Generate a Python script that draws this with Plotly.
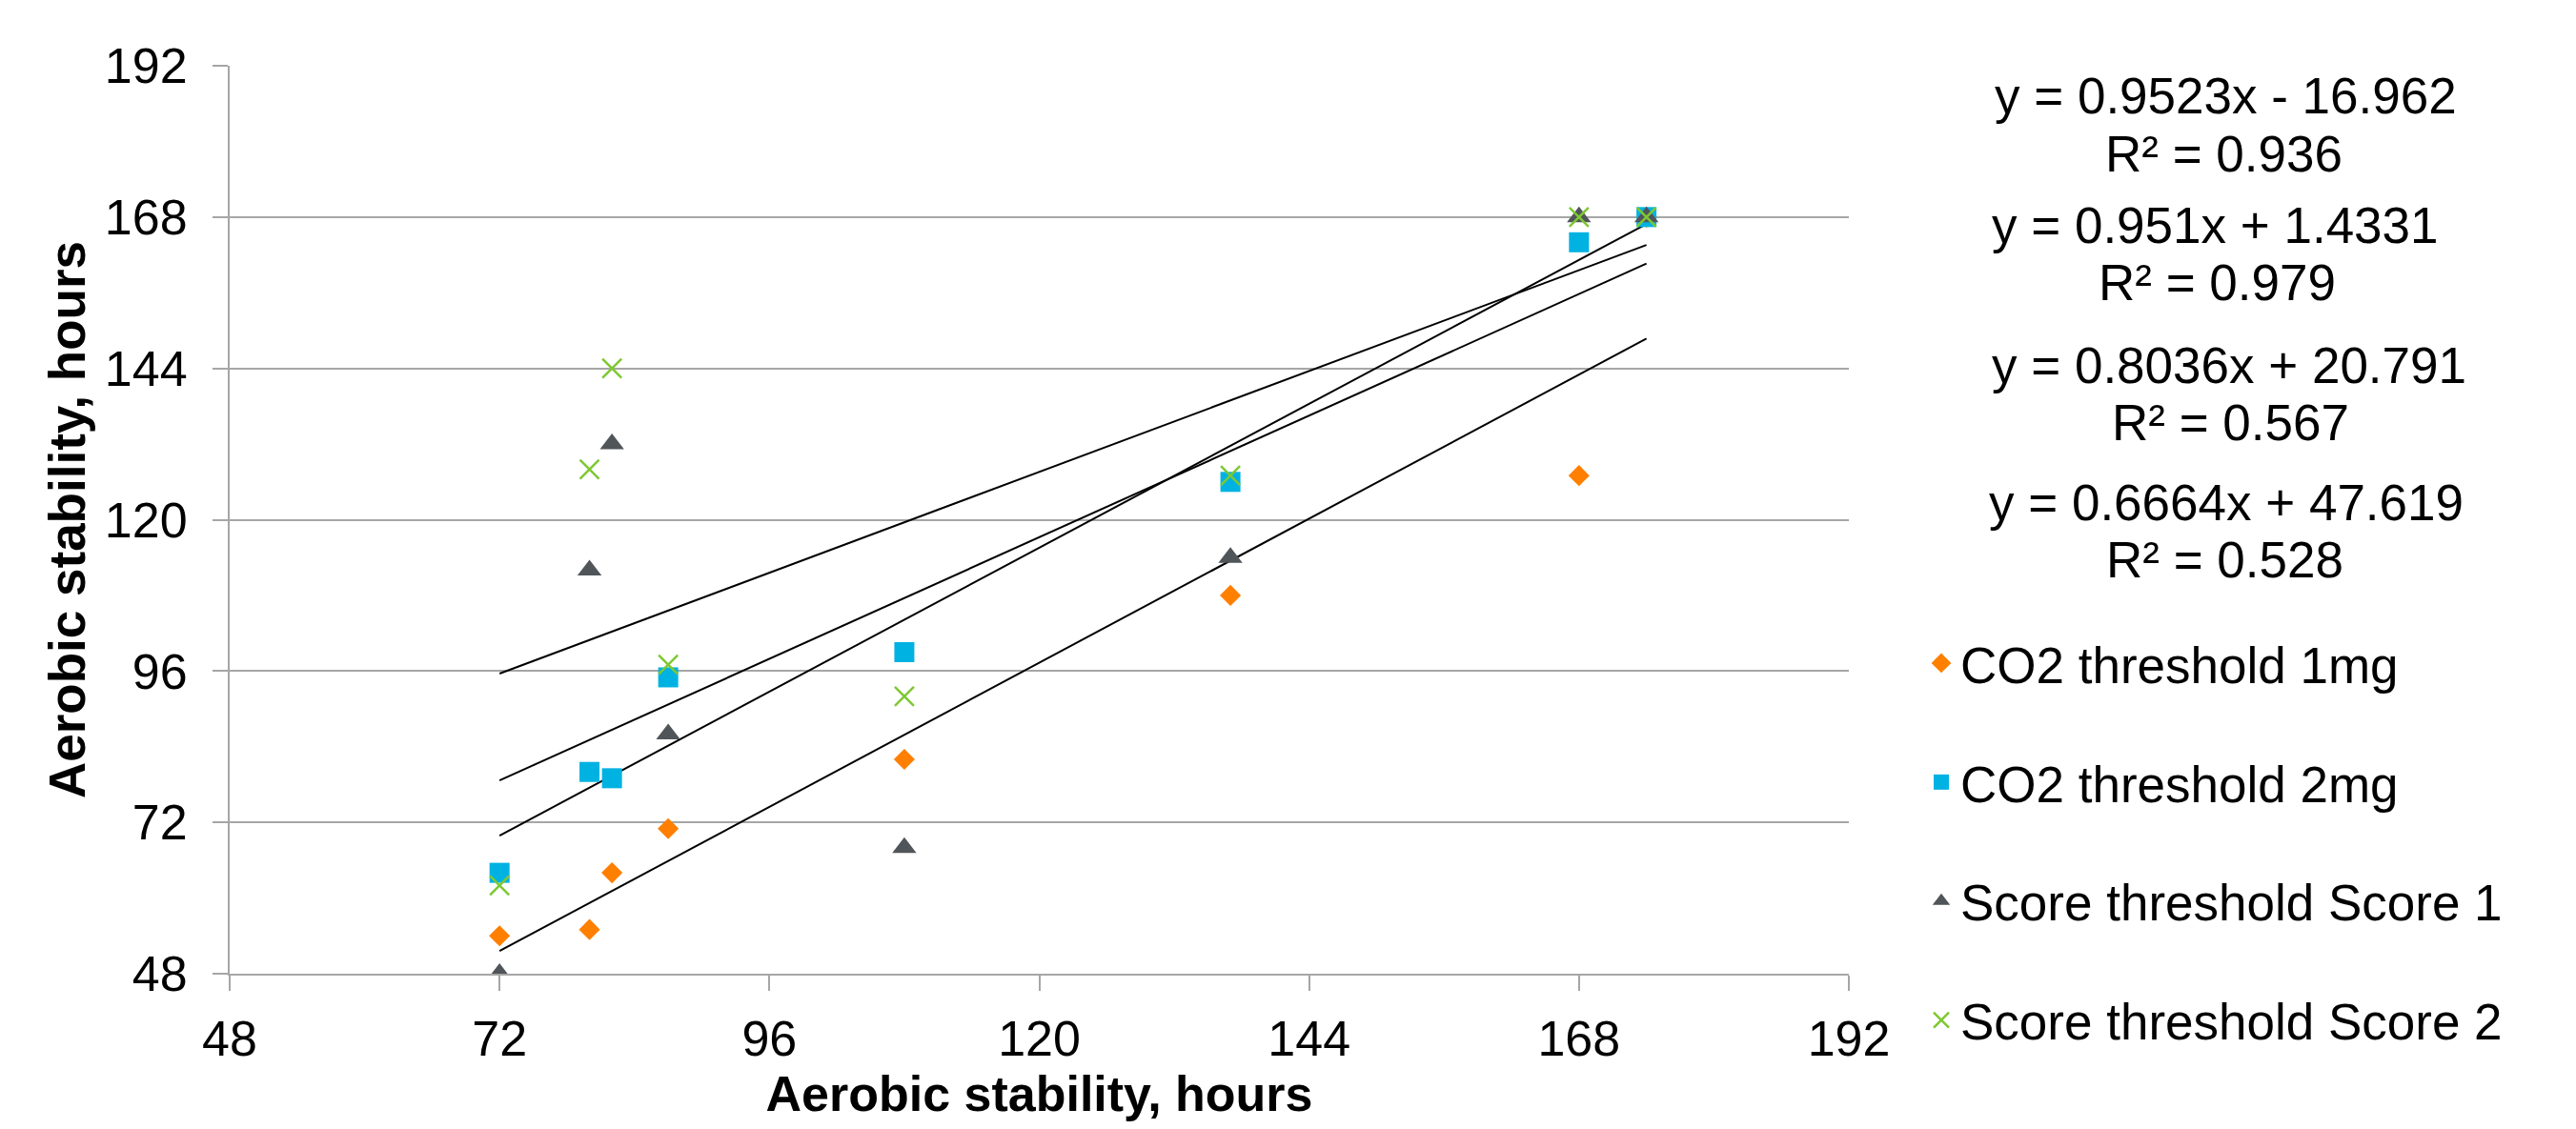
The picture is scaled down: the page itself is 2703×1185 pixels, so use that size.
import plotly.graph_objects as go

# ---- data ----
x_hours = [72, 80, 82, 87, 108, 137, 168, 174]
co2_1mg = [54, 55, 64, 71, 82, 108, 127, 168]
co2_2mg = [64, 80, 79, 95, 99, 126, 164, 168]
score_1 = [48, 112, 132, 86, 68, 114, 168, 168]
score_2 = [62, 128, 144, 97, 92, 127, 168, 168]

series_names = ["CO2 threshold 1mg", "CO2 threshold 2mg",
                "Score threshold Score 1", "Score threshold Score 2"]
trend_slopes = [0.9523, 0.951, 0.8036, 0.6664]
trend_intercepts = [-16.962, 1.4331, 20.791, 47.619]
trend_r2 = ["0.936", "0.979", "0.567", "0.528"]
eq_labels = ["y = 0.9523x - 16.962", "y = 0.951x + 1.4331",
             "y = 0.8036x + 20.791", "y = 0.6664x + 47.619"]
axis_ticks = [48, 72, 96, 120, 144, 168, 192]

# ---- styling ----
OFF = 8                      # browser body margin
W, H = 2703 - 2 * OFF, 1185 - 2 * OFF
L, T = 241 - OFF, 69 - OFF
R = W - (1940 - OFF)
B = H - (1022 - OFF)
PW, PH = W - L - R, H - T - B
FONT = "Arial, Liberation Sans, Helvetica, sans-serif"
GRID = "#A6A6A6"

def px2paper(px, py):
    # page pixel -> paper coordinates
    fx, fy = px - OFF, py - OFF
    return (fx - L) / PW, (H - B - fy) / PH

fig = go.Figure()

# trendlines (not in legend)
xmin, xmax = min(x_hours), max(x_hours)
for m, c in zip(trend_slopes, trend_intercepts):
    fig.add_trace(go.Scatter(
        x=[xmin, xmax], y=[m * xmin + c, m * xmax + c], mode="lines",
        line=dict(color="black", width=2), showlegend=False, hoverinfo="skip"))

styles = [
    dict(symbol="diamond", size=17, color="#FF7F00"),
    dict(symbol="square", size=21, color="#00B2E2"),
    dict(symbol="triangle-up", size=22, color="#505559"),
    dict(symbol="x-thin", size=20, color="#7DC832", line=dict(color="#7DC832", width=2.5)),
]
for i, (name, ys, st) in enumerate(zip(series_names, [co2_1mg, co2_2mg, score_1, score_2], styles)):
    fig.add_trace(go.Scatter(
        x=x_hours, y=ys, mode="markers", name=name, marker=st,
        legendgroup=f"g{i}"))

# trendline equation labels (page pixel positions)
eq_pos = [(2335, 101, 2333, 161), (2324, 236, 2326, 296),
          (2339, 383, 2340, 443), (2336, 527, 2334, 587)]
for lab, r2, (ex, ey, rx, ry) in zip(eq_labels, trend_r2, eq_pos):
    ax_, ay_ = px2paper(ex, ey)
    fig.add_annotation(x=ax_, y=ay_, xref="paper", yref="paper", text=lab,
                       showarrow=False, xanchor="center", yanchor="middle",
                       font=dict(size=53, color="black", family=FONT))
    bx_, by_ = px2paper(rx, ry)
    fig.add_annotation(x=bx_, y=by_, xref="paper", yref="paper", text="R² = " + r2,
                       showarrow=False, xanchor="center", yanchor="middle",
                       font=dict(size=53, color="black", family=FONT))

lx, ly = px2paper(2017, 655)

fig.update_layout(
    width=W, height=H,
    margin=dict(l=L, r=R, t=T, b=B, autoexpand=False),
    paper_bgcolor="white", plot_bgcolor="white",
    font=dict(family=FONT, size=52, color="black"),
    showlegend=True,
    legend=dict(x=lx, y=ly, xanchor="left", yanchor="top",
                font=dict(size=53, family=FONT, color="black"),
                traceorder="grouped", tracegroupgap=53,
                itemsizing="trace", bgcolor="rgba(0,0,0,0)"),
    xaxis=dict(range=[48, 192], tickvals=axis_ticks, ticktext=[str(v) for v in axis_ticks],
               showgrid=False, zeroline=False, showline=True, linecolor=GRID, linewidth=2,
               ticks="outside", ticklen=16, tickwidth=2, tickcolor=GRID,
               tickfont=dict(size=52, family=FONT, color="black"),
               ticklabelstandoff=6, automargin=False,
               title=dict(text="<b>Aerobic stability, hours</b>", standoff=18,
                          font=dict(size=52, family=FONT, color="black"))),
    yaxis=dict(range=[48, 192], tickvals=axis_ticks, ticktext=[str(v) for v in axis_ticks],
               showgrid=True, gridcolor=GRID, gridwidth=2, zeroline=False,
               showline=True, linecolor=GRID, linewidth=2,
               ticks="outside", ticklen=16, tickwidth=2, tickcolor=GRID,
               tickfont=dict(size=52, family=FONT, color="black"),
               ticklabelstandoff=16, automargin=False,
               title=dict(text="<b>Aerobic stability, hours</b>", standoff=3,
                          font=dict(size=53, family=FONT, color="black"))),
)

fig.write_html("out.html")
